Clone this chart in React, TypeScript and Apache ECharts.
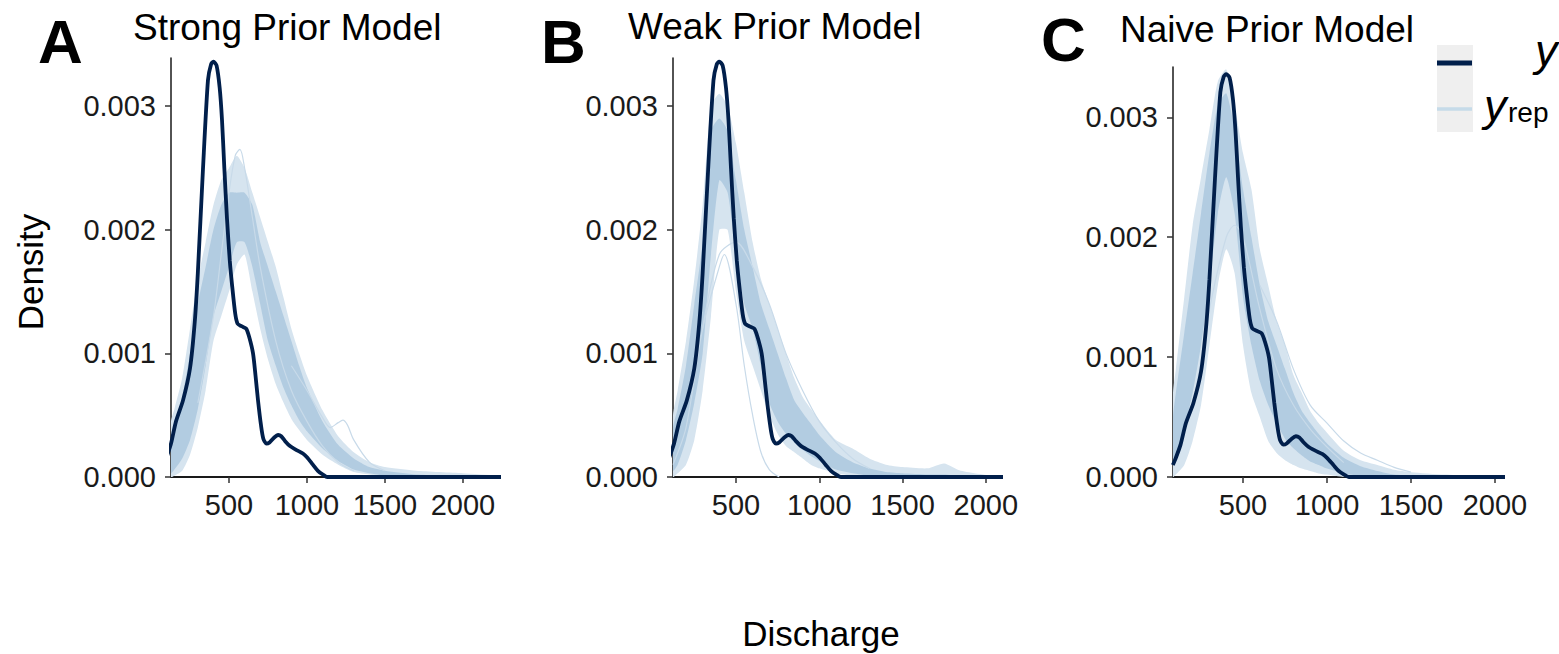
import React, { useEffect, useRef } from "react";
import * as echarts from "echarts";

// ---------- text ----------
const panelTitles = ["Strong Prior Model", "Weak Prior Model", "Naive Prior Model"];
const panelLetters = ["A", "B", "C"];
const xAxisTitle = "Discharge";
const yAxisTitle = "Density";

// ---------- ticks / ranges ----------
const xTicks = [500, 1000, 1500, 2000];
const yTicks = [0, 0.001, 0.002, 0.003];
const xMins = [128, 122, 83];
const xMaxs = [2225, 2085, 2042];
const yMaxs = [0.00339, 0.00339, 0.00342];

// ---------- observed y density (same data in every panel) ----------
const obsX = [82, 100, 128, 160, 205, 250, 280, 300, 333, 365, 385, 400, 420, 440, 455, 470, 487, 505, 519, 540, 555, 580, 610, 630, 654, 670, 686, 705, 720, 740, 760, 790, 815, 835, 860, 891, 930, 974, 1000, 1038, 1070, 1102, 1130, 1300, 1700, 2300];
const obsY = [0.0001, 0.00016, 0.00027, 0.00045, 0.00062, 0.00088, 0.00125, 0.00165, 0.00249, 0.00321, 0.00334, 0.00336, 0.00333, 0.00315, 0.00289, 0.0025, 0.00209, 0.00175, 0.00156, 0.00132, 0.00124, 0.00122, 0.0012, 0.00113, 0.001, 0.00082, 0.00062, 0.00042, 0.00031, 0.00027, 0.00028, 0.00032, 0.00034, 0.00033, 0.00029, 0.00025, 0.00022, 0.00019, 0.00016, 0.0001, 0.00005, 0.00002, 0, 0, 0, 0];

// ---------- yrep envelopes: panel A (strong prior) ----------
const aX = [128, 150, 200, 250, 300, 350, 400, 450, 500, 550, 600, 650, 700, 750, 800, 850, 900, 950, 1000, 1100, 1200, 1300, 1400, 1500, 1700, 2000, 2225];
const aOuterLo = [0, 0.00001, 0.00005, 0.00018, 0.0004, 0.0007, 0.0011, 0.0013, 0.0015, 0.00172, 0.0018, 0.0015, 0.0012, 0.00095, 0.00075, 0.0006, 0.00047, 0.00038, 0.0003, 0.00018, 0.0001, 0.00004, 0.00002, 0, 0, 0, 0];
const aOuterHi = [0.00045, 0.00055, 0.0008, 0.0012, 0.0016, 0.0019, 0.0022, 0.0024, 0.0025, 0.0026, 0.0025, 0.0023, 0.0021, 0.0019, 0.0017, 0.00145, 0.0012, 0.001, 0.00082, 0.00054, 0.00033, 0.0002, 0.00012, 0.00008, 0.00005, 0.00003, 0.00001];
const aCoreLo = [0.00003, 0.00006, 0.00015, 0.0003, 0.00055, 0.0009, 0.0013, 0.0015, 0.0017, 0.0019, 0.0019, 0.0017, 0.0014, 0.0011, 0.0009, 0.00072, 0.00058, 0.00046, 0.00037, 0.00023, 0.00013, 0.00006, 0.00003, 0.00001, 0, 0, 0];
const aCoreHi = [0.0003, 0.0004, 0.00065, 0.001, 0.0014, 0.0017, 0.002, 0.0022, 0.0023, 0.0023, 0.0023, 0.0022, 0.0019, 0.0017, 0.0015, 0.0013, 0.0011, 0.0009, 0.00072, 0.00045, 0.00026, 0.00015, 0.00008, 0.00005, 0.00002, 0.00001, 0];
const aOut1X = [300, 400, 450, 500, 540, 570, 600, 650, 700, 800, 900, 1000, 1100, 1200, 1300];
const aOut1Y = [0.0006, 0.0013, 0.0018, 0.0023, 0.0026, 0.00265, 0.0025, 0.0021, 0.0017, 0.0011, 0.0007, 0.00045, 0.00025, 0.00012, 0.00005];
const aOut2X = [900, 1000, 1100, 1150, 1200, 1230, 1260, 1300, 1400, 1500];
const aOut2Y = [0.0009, 0.0007, 0.00048, 0.0004, 0.00044, 0.00046, 0.00042, 0.0003, 0.00012, 0.00005];

// ---------- yrep envelopes: panel B (weak prior) ----------
const bX = [122, 150, 200, 250, 300, 350, 400, 450, 500, 550, 600, 650, 700, 750, 800, 850, 900, 950, 1000, 1100, 1200, 1300, 1400, 1500, 1650, 1750, 1850, 2085];
const bOuterLo = [0, 0.00003, 0.0001, 0.0003, 0.0007, 0.0013, 0.002, 0.002, 0.0015, 0.0011, 0.0009, 0.0007, 0.0005, 0.00035, 0.00025, 0.0002, 0.00015, 0.0001, 0.00007, 0.00003, 0.00001, 0, 0, 0, 0, 0, 0, 0];
const bOuterHi = [0.0005, 0.0007, 0.0011, 0.0016, 0.0022, 0.003, 0.0031, 0.003, 0.0027, 0.0023, 0.0019, 0.0016, 0.0014, 0.0012, 0.001, 0.0008, 0.00065, 0.00055, 0.00046, 0.0003, 0.00023, 0.00015, 0.0001, 0.00008, 0.00007, 0.00011, 0.00005, 0];
const bCoreLo = [0.00005, 0.0001, 0.0003, 0.0006, 0.001, 0.0018, 0.0024, 0.0023, 0.0018, 0.0014, 0.0012, 0.0009, 0.0006, 0.00045, 0.00035, 0.00028, 0.00022, 0.00017, 0.00013, 0.00006, 0.00003, 0.00001, 0, 0, 0, 0, 0, 0];
const bCoreHi = [0.0004, 0.00055, 0.0009, 0.0014, 0.0019, 0.0028, 0.0029, 0.0028, 0.0024, 0.002, 0.0017, 0.0014, 0.0012, 0.001, 0.0008, 0.00062, 0.00052, 0.00043, 0.00034, 0.0002, 0.00012, 0.00007, 0.00004, 0.00003, 0.00002, 0.00002, 0.00001, 0];
const bOut1X = [122, 200, 300, 400, 430, 500, 550, 600, 650, 700, 760];
const bOut1Y = [0.0001, 0.0004, 0.0012, 0.0017, 0.0018, 0.0014, 0.0009, 0.0005, 0.0002, 0.00006, 0];
const bOut2X = [300, 400, 500, 600, 700, 800, 900, 1000, 1100, 1200, 1300];
const bOut2Y = [0.0012, 0.0018, 0.0019, 0.0017, 0.0014, 0.001, 0.0007, 0.00045, 0.00028, 0.00015, 0.00007];

// ---------- yrep envelopes: panel C (naive prior) ----------
const cX = [83, 100, 150, 200, 250, 300, 350, 400, 450, 500, 550, 600, 650, 700, 750, 800, 850, 900, 950, 1000, 1100, 1200, 1300, 1400, 1500, 1700, 2042];
const cOuterLo = [0, 0.00002, 0.0001, 0.0003, 0.0006, 0.0011, 0.0016, 0.0019, 0.0017, 0.0011, 0.0007, 0.0005, 0.0003, 0.0002, 0.00014, 0.0001, 0.00007, 0.00005, 0.00003, 0.00002, 0, 0, 0, 0, 0, 0, 0];
const cOuterHi = [0.0007, 0.0009, 0.0015, 0.0021, 0.0025, 0.0029, 0.0033, 0.0034, 0.0031, 0.0027, 0.0024, 0.0019, 0.0016, 0.0013, 0.0011, 0.00085, 0.0007, 0.00055, 0.00045, 0.00037, 0.00022, 0.00014, 0.0001, 0.00006, 0.00004, 0.00002, 0];
const cCoreLo = [0.0001, 0.00015, 0.0004, 0.0007, 0.0011, 0.0016, 0.0022, 0.0025, 0.0022, 0.0015, 0.0011, 0.0008, 0.0006, 0.00045, 0.00032, 0.00024, 0.00018, 0.00013, 0.0001, 0.00007, 0.00003, 0.00001, 0, 0, 0, 0, 0];
const cCoreHi = [0.0005, 0.0007, 0.0012, 0.0017, 0.0022, 0.0027, 0.0031, 0.0032, 0.0029, 0.0024, 0.002, 0.0016, 0.0013, 0.0011, 0.0009, 0.0007, 0.00055, 0.00045, 0.00036, 0.00028, 0.00016, 0.00009, 0.00005, 0.00002, 0.00001, 0, 0];
const cOut1X = [83, 200, 300, 400, 450, 500, 600, 700, 800, 900, 1000, 1100];
const cOut1Y = [0.0001, 0.0006, 0.0014, 0.002, 0.0021, 0.002, 0.0014, 0.0009, 0.0006, 0.0004, 0.00025, 0.00012];
const cOut2X = [600, 700, 800, 900, 1000, 1100, 1200, 1300, 1400, 1500];
const cOut2Y = [0.0016, 0.0013, 0.0009, 0.0006, 0.00045, 0.0003, 0.0002, 0.00014, 0.00008, 0.00004];

const bandX = [aX, bX, cX];
const outerLo = [aOuterLo, bOuterLo, cOuterLo];
const outerHi = [aOuterHi, bOuterHi, cOuterHi];
const coreLo = [aCoreLo, bCoreLo, cCoreLo];
const coreHi = [aCoreHi, bCoreHi, cCoreHi];
const outliers = [
  [[aOut1X, aOut1Y], [aOut2X, aOut2Y]],
  [[bOut1X, bOut1Y], [bOut2X, bOut2Y]],
  [[cOut1X, cOut1Y], [cOut2X, cOut2Y]],
];

const FONT = '"Liberation Sans", Arial, Helvetica, sans-serif';
const DARK = "#011f4b";
const OUTER = "#d6e4ef";
const CORE = "#b2cce1";
const THIN = "#c8dae9";

const grids = [
  { left: 171, top: 58, width: 327, height: 419 },
  { left: 673, top: 58, width: 327, height: 419 },
  { left: 1173, top: 67, width: 329, height: 410 },
];

function pairs(xs: number[], ys: number[]) {
  return xs.map((x, i) => [x, ys[i]]);
}

function bandSeries(idx: number, xs: number[], lo: number[], hi: number[], color: string, z: number) {
  return {
    type: "custom",
    xAxisIndex: idx,
    yAxisIndex: idx,
    clip: true,
    silent: true,
    z,
    data: [[xs[0], 0]],
    renderItem: (_params: any, api: any) => {
      const pts: number[][] = [];
      for (let i = 0; i < xs.length; i++) pts.push(api.coord([xs[i], hi[i]]));
      for (let i = xs.length - 1; i >= 0; i--) pts.push(api.coord([xs[i], lo[i]]));
      return {
        type: "polygon",
        shape: { points: pts, smooth: 0.2 },
        style: { fill: color, stroke: null },
      };
    },
  };
}

function buildOption() {
  const xAxis: any[] = [];
  const yAxis: any[] = [];
  const series: any[] = [];
  for (let i = 0; i < 3; i++) {
    xAxis.push({
      type: "value",
      gridIndex: i,
      min: xMins[i],
      max: xMaxs[i],
      splitLine: { show: false },
      axisLine: { show: true, onZero: false, lineStyle: { color: "#1a1a1a", width: 2 } },
      axisTick: { show: true, length: 6, customValues: xTicks, lineStyle: { color: "#333", width: 1.5 } },
      axisLabel: {
        customValues: xTicks,
        fontSize: 29,
        color: "#1a1a1a",
        fontFamily: FONT,
        margin: 13,
        formatter: (v: number) => String(v),
      },
    });
    yAxis.push({
      type: "value",
      gridIndex: i,
      min: 0,
      max: yMaxs[i],
      splitLine: { show: false },
      axisLine: { show: true, onZero: false, lineStyle: { color: "#1a1a1a", width: 1.5 } },
      axisTick: { show: true, length: 6, customValues: yTicks, lineStyle: { color: "#333", width: 1.5 } },
      axisLabel: {
        customValues: yTicks,
        fontSize: 29,
        color: "#1a1a1a",
        fontFamily: FONT,
        margin: 15,
        formatter: (v: number) => v.toFixed(3),
      },
    });
    series.push(bandSeries(i, bandX[i], outerLo[i], outerHi[i], OUTER, 1));
    series.push(bandSeries(i, bandX[i], coreLo[i], coreHi[i], CORE, 2));
    outliers[i].forEach(([xs, ys]) => {
      series.push({
        type: "line",
        xAxisIndex: i,
        yAxisIndex: i,
        data: pairs(xs, ys),
        smooth: 0.3,
        showSymbol: false,
        silent: true,
        z: 3,
        lineStyle: { color: THIN, width: 1.2 },
      });
    });
    series.push({
      type: "line",
      xAxisIndex: i,
      yAxisIndex: i,
      data: pairs(obsX, obsY),
      smooth: 0.25,
      showSymbol: false,
      silent: true,
      z: 5,
      lineStyle: { color: DARK, width: 3.8 },
    });
  }

  const letterPos = [
    { x: 38, y: 41 },
    { x: 541, y: 41 },
    { x: 1041, y: 39 },
  ];
  const titlePos = [
    { x: 133, y: 27 },
    { x: 628, y: 26 },
    { x: 1120, y: 29 },
  ];
  const graphic: any[] = [];
  for (let i = 0; i < 3; i++) {
    graphic.push({
      type: "text",
      x: letterPos[i].x,
      y: letterPos[i].y,
      style: {
        text: panelLetters[i],
        font: `bold 62px ${FONT}`,
        fill: "#000",
        textAlign: "left",
        textVerticalAlign: "middle",
      },
    });
    graphic.push({
      type: "text",
      x: titlePos[i].x,
      y: titlePos[i].y,
      style: {
        text: panelTitles[i],
        font: `37px ${FONT}`,
        fill: "#000",
        textAlign: "left",
        textVerticalAlign: "middle",
      },
    });
  }
  graphic.push({
    type: "text",
    x: 821,
    y: 633,
    style: { text: xAxisTitle, font: `35px ${FONT}`, fill: "#000", textAlign: "center", textVerticalAlign: "middle" },
  });
  graphic.push({
    type: "text",
    x: 30,
    y: 272,
    rotation: Math.PI / 2,
    style: { text: yAxisTitle, font: `35px ${FONT}`, fill: "#000", textAlign: "center", textVerticalAlign: "middle" },
  });
  // legend
  graphic.push({ type: "rect", shape: { x: 1437, y: 45, width: 36, height: 87 }, style: { fill: "#efefef" } });
  graphic.push({ type: "line", shape: { x1: 1437, y1: 63, x2: 1472, y2: 63 }, style: { stroke: DARK, lineWidth: 5 } });
  graphic.push({ type: "line", shape: { x1: 1437, y1: 109, x2: 1472, y2: 109 }, style: { stroke: "#c6dbe9", lineWidth: 3.5 } });
  graphic.push({
    type: "text",
    x: 1535,
    y: 50,
    style: { text: "y", font: `italic 45px ${FONT}`, fill: "#000", textAlign: "left", textVerticalAlign: "middle" },
  });
  graphic.push({
    type: "text",
    x: 1484,
    y: 105,
    style: { text: "y", font: `italic 45px ${FONT}`, fill: "#000", textAlign: "left", textVerticalAlign: "middle" },
  });
  graphic.push({
    type: "text",
    x: 1508,
    y: 112,
    style: { text: "rep", font: `28px ${FONT}`, fill: "#000", textAlign: "left", textVerticalAlign: "middle" },
  });

  return {
    animation: false,
    backgroundColor: "#ffffff",
    grid: grids.map((g) => ({ ...g, containLabel: false })),
    xAxis,
    yAxis,
    series,
    graphic,
  };
}

export default function App() {
  const ref = useRef<HTMLDivElement>(null);
  useEffect(() => {
    if (!ref.current) return;
    const chart = echarts.init(ref.current, null, { renderer: "svg" });
    chart.setOption(buildOption() as any);
    return () => chart.dispose();
  }, []);
  return (
    <div
      ref={ref}
      style={{ position: "absolute", left: 0, top: 0, width: 1559, height: 654, background: "#fff" }}
    />
  );
}
